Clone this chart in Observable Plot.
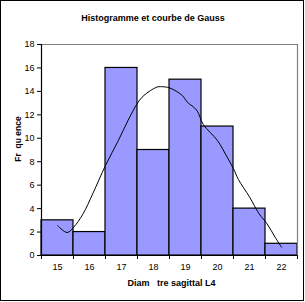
<!DOCTYPE html>
<html><head><meta charset="utf-8">
<script src="https://cdn.jsdelivr.net/npm/d3@7"></script>
<script src="https://cdn.jsdelivr.net/npm/@observablehq/plot@0.6"></script>
<style>
body{margin:0;background:#fff;}
#chart{position:relative;width:305px;height:302px;}
svg{font-family:"Liberation Sans",Arial,sans-serif;}
</style>
</head><body><div id="chart"></div>
<script>
const categories = [15, 16, 17, 18, 19, 20, 21, 22];
const counts = [3, 2, 16, 9, 15, 11, 4, 1];
const yTicks = [0, 2, 4, 6, 8, 10, 12, 14, 16, 18];
const curveX = [15.0, 15.3, 15.5, 15.8, 16.1, 16.5, 16.9, 17.2, 17.5, 17.7, 18.1, 18.25, 18.5, 18.9, 19.05, 19.35, 19.55, 20.0, 20.3, 20.5, 20.65, 21.0, 21.3, 21.55, 21.8, 22.0];
const curveY = [2.56, 1.96, 2.4, 3.56, 5.26, 7.68, 9.8, 11.5, 13.0, 13.65, 14.36, 14.4, 14.3, 13.65, 13.1, 12.4, 11.2, 9.8, 8.4, 7.4, 6.5, 5.0, 3.56, 2.7, 1.56, 0.71];
const title = "Histogramme et courbe de Gauss";
const xLabel = "Diam\u00a0\u00a0\u00a0tre sagittal L4";
const yLabel = "Fr\u00a0\u00a0qu\u00a0ence";

const bars = categories.map((c, i) => ({c, n: counts[i]}));
const curve = curveX.map((x, i) => ({x, y: curveY[i]}));
const lo = categories[0] - 0.5, hi = categories[categories.length - 1] + 0.5;
const bounds = d3.range(lo, hi + 0.01, 1);

const plot = Plot.plot({
  width: 305, height: 302,
  marginLeft: 41, marginRight: 8, marginTop: 44, marginBottom: 47,
  style: {fontFamily: '"Liberation Sans", Arial, sans-serif', fontSize: "9px", color: "#000", background: "transparent"},
  x: {domain: [lo, hi], axis: null},
  y: {domain: [0, 18], axis: null},
  marks: [
    Plot.rectY(bars, {x1: d => d.c - 0.5, x2: d => d.c + 0.5, y: "n", fill: "#9999ff", stroke: "#000", strokeWidth: 1.2}),
    Plot.line(curve, {x: "x", y: "y", stroke: "#000", strokeWidth: 1, curve: "catmull-rom"}),
    Plot.ruleY([18], {stroke: "#808080", strokeWidth: 1.2}),
    Plot.ruleX([hi], {stroke: "#808080", strokeWidth: 1.2}),
    Plot.ruleX([lo], {stroke: "#000", strokeWidth: 1.2}),
    Plot.ruleY([0], {stroke: "#000", strokeWidth: 1.2}),
    Plot.axisY({ticks: yTicks, tickSize: 4, tickPadding: 3, label: null, fontSize: 9}),
    Plot.axisX({ticks: bounds, tickSize: 4, tickFormat: () => "", label: null}),
    Plot.axisX({ticks: categories, tickSize: 0, tickPadding: 8, label: null, fontSize: 9}),
    Plot.text([title], {frameAnchor: "top", dx: -16.5, dy: -30, fontSize: 9, fontWeight: 600, text: d => d}),
    Plot.text([xLabel], {frameAnchor: "bottom", dx: 2, dy: 30, fontSize: 9, fontWeight: 600, text: d => d}),
    Plot.text([yLabel], {frameAnchor: "left", textAnchor: "middle", dx: -23, dy: -11, rotate: -90, fontSize: 8.5, fontWeight: 600, text: d => d})
  ]
});
d3.select(plot).append("rect").attr("x", 0.5).attr("y", 0.5).attr("width", 303).attr("height", 300)
  .attr("fill", "none").attr("stroke", "#000").attr("stroke-width", 1);
document.getElementById("chart").appendChild(plot);
</script>
</body></html>
